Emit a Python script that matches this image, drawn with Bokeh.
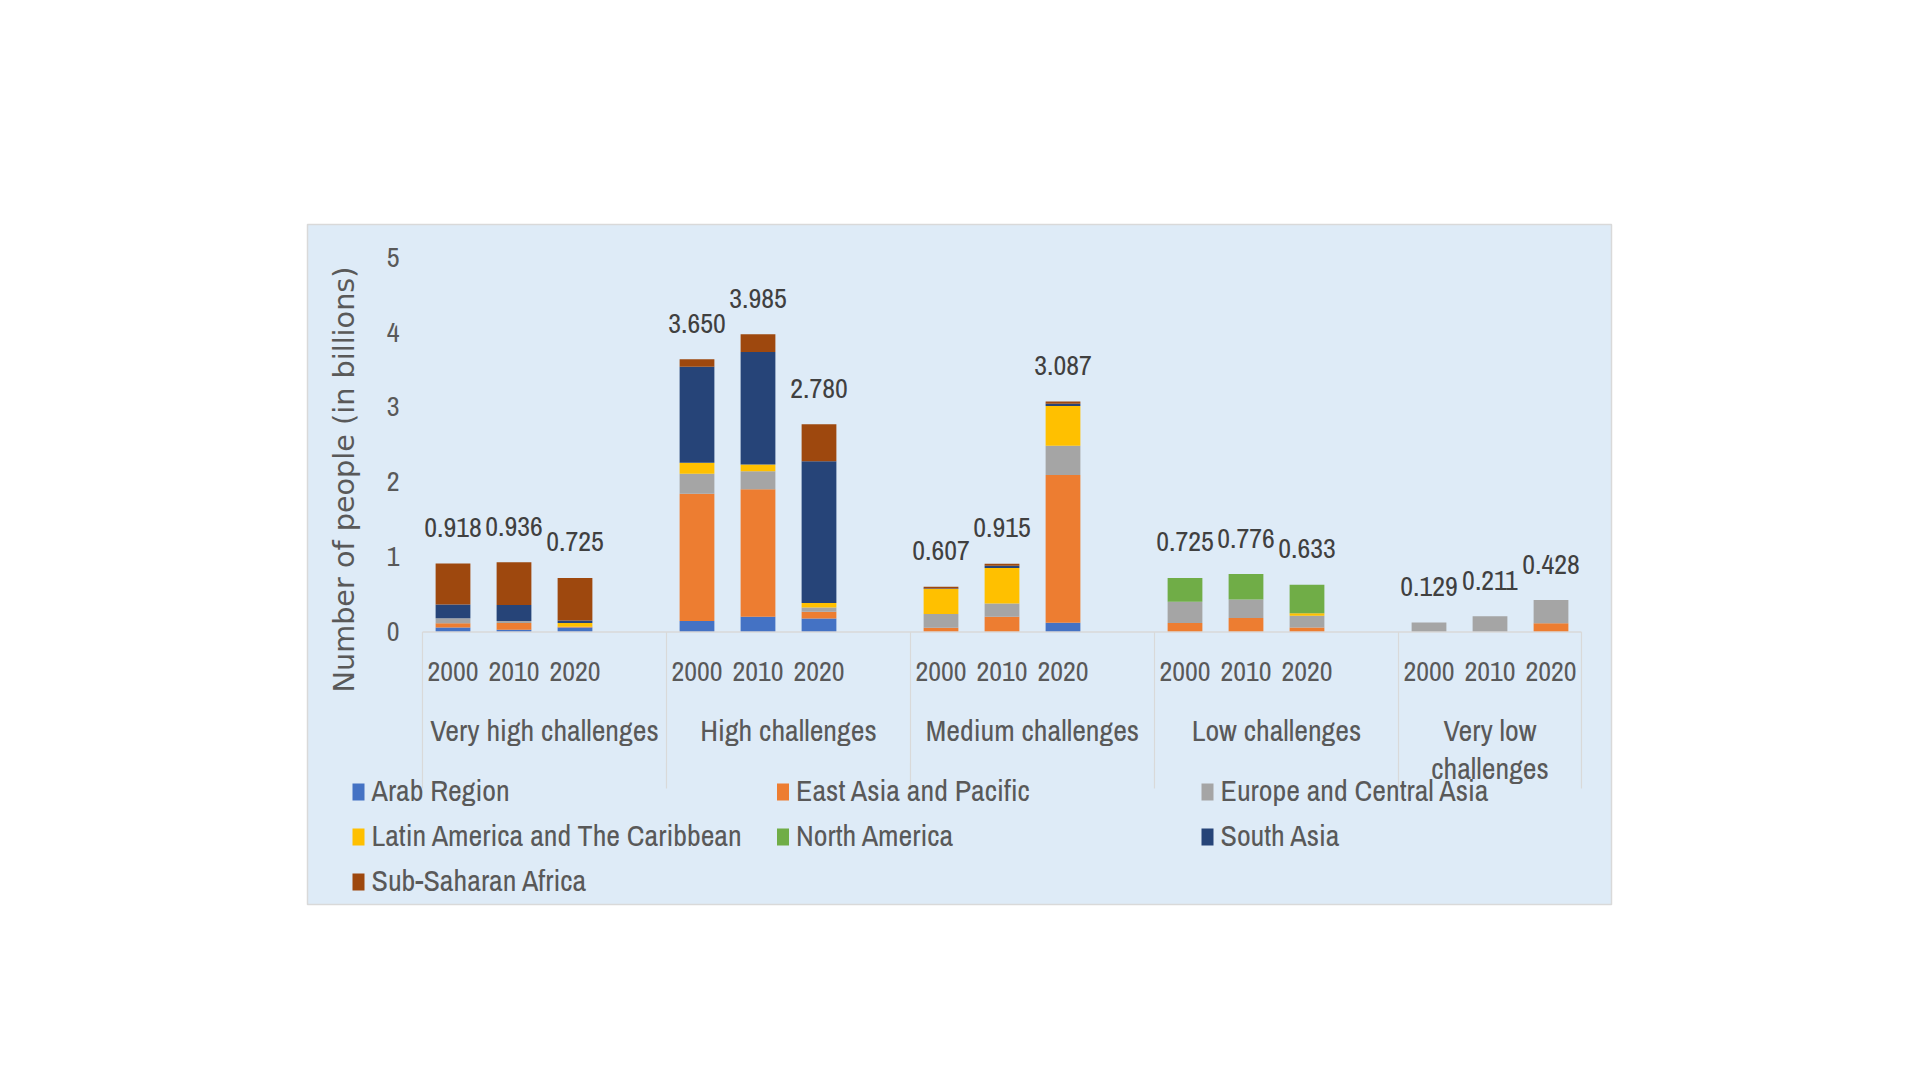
import math
from bokeh.plotting import figure
from bokeh.models import ColumnDataSource, Range1d
from bokeh.embed import file_html
from bokeh.resources import INLINE
from bokeh.core.properties import value

# ---------------- data ----------------
categories = ["Very high challenges", "High challenges", "Medium challenges",
              "Low challenges", "Very low\nchallenges"]
years = ["2000", "2010", "2020"]
regions = ["Arab Region", "East Asia and Pacific", "Europe and Central Asia",
           "Latin America and The Caribbean", "North America", "South Asia",
           "Sub-Saharan Africa"]
colors = ["#4472C4", "#ED7D31", "#A5A5A5", "#FFC000", "#70AD47", "#264478", "#9E480E"]

# one value per bar: (category, year) in order VH00, VH10, VH20, H00, ... VL20
arab_region = [0.060, 0.032, 0.062, 0.148, 0.206, 0.181, 0.000, 0.000, 0.124,
               0.000, 0.000, 0.000, 0.000, 0.000, 0.000]
east_asia_pacific = [0.060, 0.091, 0.009, 1.702, 1.705, 0.090, 0.059, 0.204, 1.977,
                     0.123, 0.187, 0.062, 0.000, 0.000, 0.120]
europe_central_asia = [0.064, 0.027, 0.000, 0.269, 0.242, 0.059, 0.183, 0.178, 0.391,
                       0.284, 0.248, 0.157, 0.129, 0.211, 0.308]
latin_america_caribbean = [0.000, 0.000, 0.052, 0.148, 0.090, 0.059, 0.333, 0.475, 0.533,
                           0.000, 0.000, 0.033, 0.000, 0.000, 0.000]
north_america = [0.000, 0.000, 0.000, 0.000, 0.000, 0.000, 0.000, 0.000, 0.000,
                 0.318, 0.341, 0.381, 0.000, 0.000, 0.000]
south_asia = [0.184, 0.214, 0.033, 1.284, 1.503, 1.898, 0.010, 0.031, 0.031,
              0.000, 0.000, 0.000, 0.000, 0.000, 0.000]
sub_saharan_africa = [0.550, 0.572, 0.569, 0.099, 0.239, 0.493, 0.022, 0.027, 0.031,
                      0.000, 0.000, 0.000, 0.000, 0.000, 0.000]
totals = [0.918, 0.936, 0.725, 3.650, 3.985, 2.780, 0.607, 0.915, 3.087,
          0.725, 0.776, 0.633, 0.129, 0.211, 0.428]
y_ticks = [0, 1, 2, 3, 4, 5]
y_title = "Number of people (in billions)"

# ---------------- layout constants (page pixels) ----------------
BOX_L, BOX_R, BOX_T, BOX_B = 307, 1611, 224, 904      # chart box on page
AX_L = 422                                             # x of first slot
SLOT = (1581 - 422) / 19.0                             # px per category slot
Y0 = 631.6                                             # px of value 0
UNIT = 74.74                                           # px per 1 billion
FIG_W, FIG_H = 1904, 1064
TS = 11                                                # text baseline correction (px)


def X(px):
    return (px - AX_L) / SLOT


def Y(py):
    return (Y0 - py) / UNIT


FONT_N = value("Archivo Narrow")
TXT = "#595959"

p = figure(width=FIG_W, height=FIG_H, output_backend="svg", toolbar_location=None,
           x_range=Range1d(X(BOX_L), X(BOX_R)), y_range=Range1d(Y(BOX_B), Y(BOX_T)),
           x_axis_location=None, y_axis_location=None,
           min_border_left=BOX_L, min_border_right=FIG_W - BOX_R,
           min_border_top=BOX_T, min_border_bottom=FIG_H - BOX_B)
p.grid.visible = False
p.background_fill_color = "#DEEBF7"
p.border_fill_color = "white"
p.outline_line_color = "#D9D9D9"
p.outline_line_width = 1.5

# bar positions: 4 slots per category (3 years + gap)
xs, year_lbl = [], []
for g, _ in enumerate(categories):
    for k, yr in enumerate(years):
        xs.append(4 * g + k + 0.5)
        year_lbl.append(yr)

cols = {
    regions[0]: arab_region, regions[1]: east_asia_pacific, regions[2]: europe_central_asia,
    regions[3]: latin_america_caribbean, regions[4]: north_america, regions[5]: south_asia,
    regions[6]: sub_saharan_africa,
}
data = dict(x=xs, total=totals, label=["%.3f" % t for t in totals],
            label_y=[t + (25 + TS) / UNIT for t in totals], year=year_lbl)
data.update(cols)
src = ColumnDataSource(data)

p.vbar_stack(regions, x="x", width=0.57, color=colors, line_color=None, source=src)

# value labels
p.text(x="x", y="label_y", text="label", source=src, text_align="center",
       text_baseline="alphabetic", text_font=FONT_N, text_font_size="28px",
       text_color="#404040")

# axis line and category separators
n_slots = 4 * (len(categories) - 1) + len(years)
p.segment(x0=[0], y0=[0], x1=[n_slots], y1=[0], line_color="#D9D9D9", line_width=1.5)
seps = [4 * g for g in range(len(categories))] + [n_slots]
p.segment(x0=seps, y0=[0] * len(seps), x1=seps, y1=[Y(788)] * len(seps),
          line_color="#D9D9D9", line_width=1.2)

# year labels
p.text(x="x", y=Y(681.7 - TS), text="year", source=src, text_align="center",
       text_baseline="alphabetic", text_font=FONT_N, text_font_size="28px",
       text_color=TXT)

# category labels
cx, cy, ct = [], [], []
for g, cat in enumerate(categories):
    start, end = 4 * g, min(4 * g + 4, n_slots)
    for li, line in enumerate(cat.split("\n")):
        cx.append((start + end) / 2)
        cy.append(Y(740 - TS + 38 * li))
        ct.append(line)
p.text(x=cx, y=cy, text=ct, text_align="center", text_baseline="alphabetic",
       text_font=FONT_N, text_font_size="30px", text_color=TXT)

# y tick labels
p.text(x=[X(399)] * len(y_ticks), y=[t - (10 - TS) / UNIT for t in y_ticks],
       text=[str(t) for t in y_ticks], text_align="right", text_baseline="alphabetic",
       text_font=FONT_N, text_font_size="28px", text_color=TXT)

# y axis title
p.text(x=[X(343)], y=[Y(479)], text=[y_title], angle=math.pi / 2,
       text_align="center", text_baseline="middle", text_font=value("DejaVu Sans"),
       text_font_size="28.7px", text_color=TXT)

# legend (3 columns)
col_left = [352, 776.5, 1201]
row_base = [800, 845, 890]
mx, my, tx, ty = [], [], [], []
for i, r in enumerate(regions):
    c, rw = i % 3, i // 3
    mx.append(X(col_left[c] + 6))
    my.append(Y(row_base[rw] - 8.5))
    tx.append(X(col_left[c] + 19))
    ty.append(Y(row_base[rw] - TS))
p.rect(x=mx, y=my, width=12, height=17, width_units="screen", height_units="screen",
       fill_color=colors, line_color=None)
p.text(x=tx, y=ty, text=regions, text_align="left", text_baseline="alphabetic",
       text_font=FONT_N, text_font_size="30px", text_color=TXT)

open("out.html", "w").write(file_html(p, INLINE))
